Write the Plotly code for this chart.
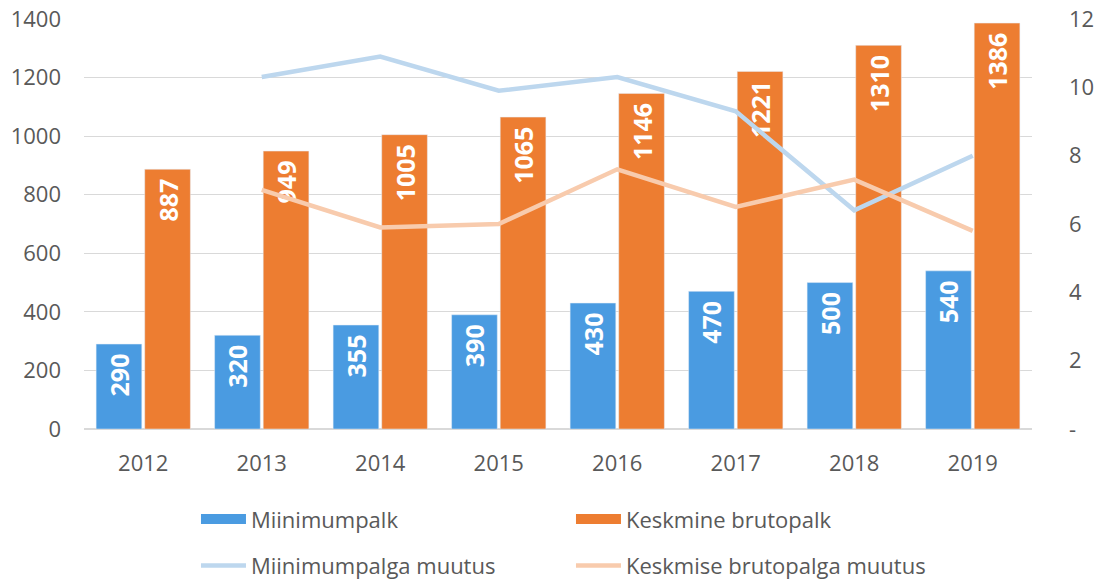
import plotly.graph_objects as go

years = ["2012", "2013", "2014", "2015", "2016", "2017", "2018", "2019"]
miinimumpalk = [290, 320, 355, 390, 430, 470, 500, 540]
keskmine = [887, 949, 1005, 1065, 1146, 1221, 1310, 1386]
miin_muutus = [None, 10.3, 10.9, 9.9, 10.3, 9.3, 6.4, 8.0]
kesk_muutus = [None, 7.0, 5.9, 6.0, 7.6, 6.5, 7.3, 5.8]

right_ticks = [0, 2, 4, 6, 8, 10, 12]
right_text = ["-", "2", "4", "6", "8", "10", "12"]

FONT = "Open Sans"
TXT = "#595959"
BLUE = "#4A9BE1"
ORANGE = "#ED7D31"

fig = go.Figure()
fig.add_trace(go.Bar(
    x=years, y=miinimumpalk, name="Miinimumpalk", marker_color=BLUE,
    text=[str(v) + " " for v in miinimumpalk], textposition="inside", textangle=-90,
    insidetextanchor="end", textfont=dict(family=FONT, size=25, color="white", weight="bold"),
    showlegend=False))
fig.add_trace(go.Bar(
    x=years, y=keskmine, name="Keskmine brutopalk", marker_color=ORANGE,
    text=[str(v) + " " for v in keskmine], textposition="inside", textangle=-90,
    insidetextanchor="end", textfont=dict(family=FONT, size=25, color="white", weight="bold"),
    showlegend=False))
fig.add_trace(go.Scatter(
    x=years, y=miin_muutus, name="Miinimumpalga muutus", mode="lines",
    line=dict(color="#BDD7EE", width=4.5), yaxis="y2", legend="legend2"))
fig.add_trace(go.Scatter(
    x=years, y=kesk_muutus, name="Keskmise brutopalga muutus", mode="lines",
    line=dict(color="#F8CBAD", width=4.5), yaxis="y2", legend="legend2"))
# legend entries for the bar series (wide rectangle symbols)
fig.add_trace(go.Scatter(x=[None], y=[None], name="Miinimumpalk", mode="lines",
                         line=dict(color=BLUE, width=12), legend="legend"))
fig.add_trace(go.Scatter(x=[None], y=[None], name="Keskmine brutopalk", mode="lines",
                         line=dict(color=ORANGE, width=12), legend="legend"))

leg_common = dict(orientation="h", x=0.178, xref="container", yref="container",
                  xanchor="left", yanchor="middle",
                  entrywidth=315, entrywidthmode="pixels", font=dict(size=22, color=TXT),
                  itemwidth=45, bgcolor="rgba(0,0,0,0)")

fig.update_layout(
    width=1101, height=582,
    margin=dict(l=84, r=69, t=19, b=153, autoexpand=False),
    plot_bgcolor="white", paper_bgcolor="white",
    font=dict(family=FONT, size=22, color=TXT),
    barmode="group", bargap=0.18, bargroupgap=0.06,
    xaxis=dict(showgrid=False, ticks="", ticklabelstandoff=15, tickfont=dict(size=22, color=TXT),
               showline=True, linecolor="#D9D9D9", linewidth=1, automargin=False),
    yaxis=dict(range=[0, 1400], dtick=200, showgrid=True, gridcolor="#D9D9D9", gridwidth=1,
               zeroline=True, zerolinecolor="#D9D9D9", ticks="", ticklabelstandoff=22,
               tickfont=dict(size=22, color=TXT), automargin=False),
    yaxis2=dict(range=[0, 12], overlaying="y", side="right", tickvals=right_ticks, ticktext=right_text,
                showgrid=False, zeroline=False, ticks="", ticklabelstandoff=36,
                tickfont=dict(size=22, color=TXT), automargin=False),
    legend=dict(leg_common, y=0.108),
    legend2=dict(leg_common, y=0.028),
)

fig.write_html("out.html", config={"displayModeBar": False},
               post_script="document.body.style.margin='0';document.body.style.overflow='hidden';")
